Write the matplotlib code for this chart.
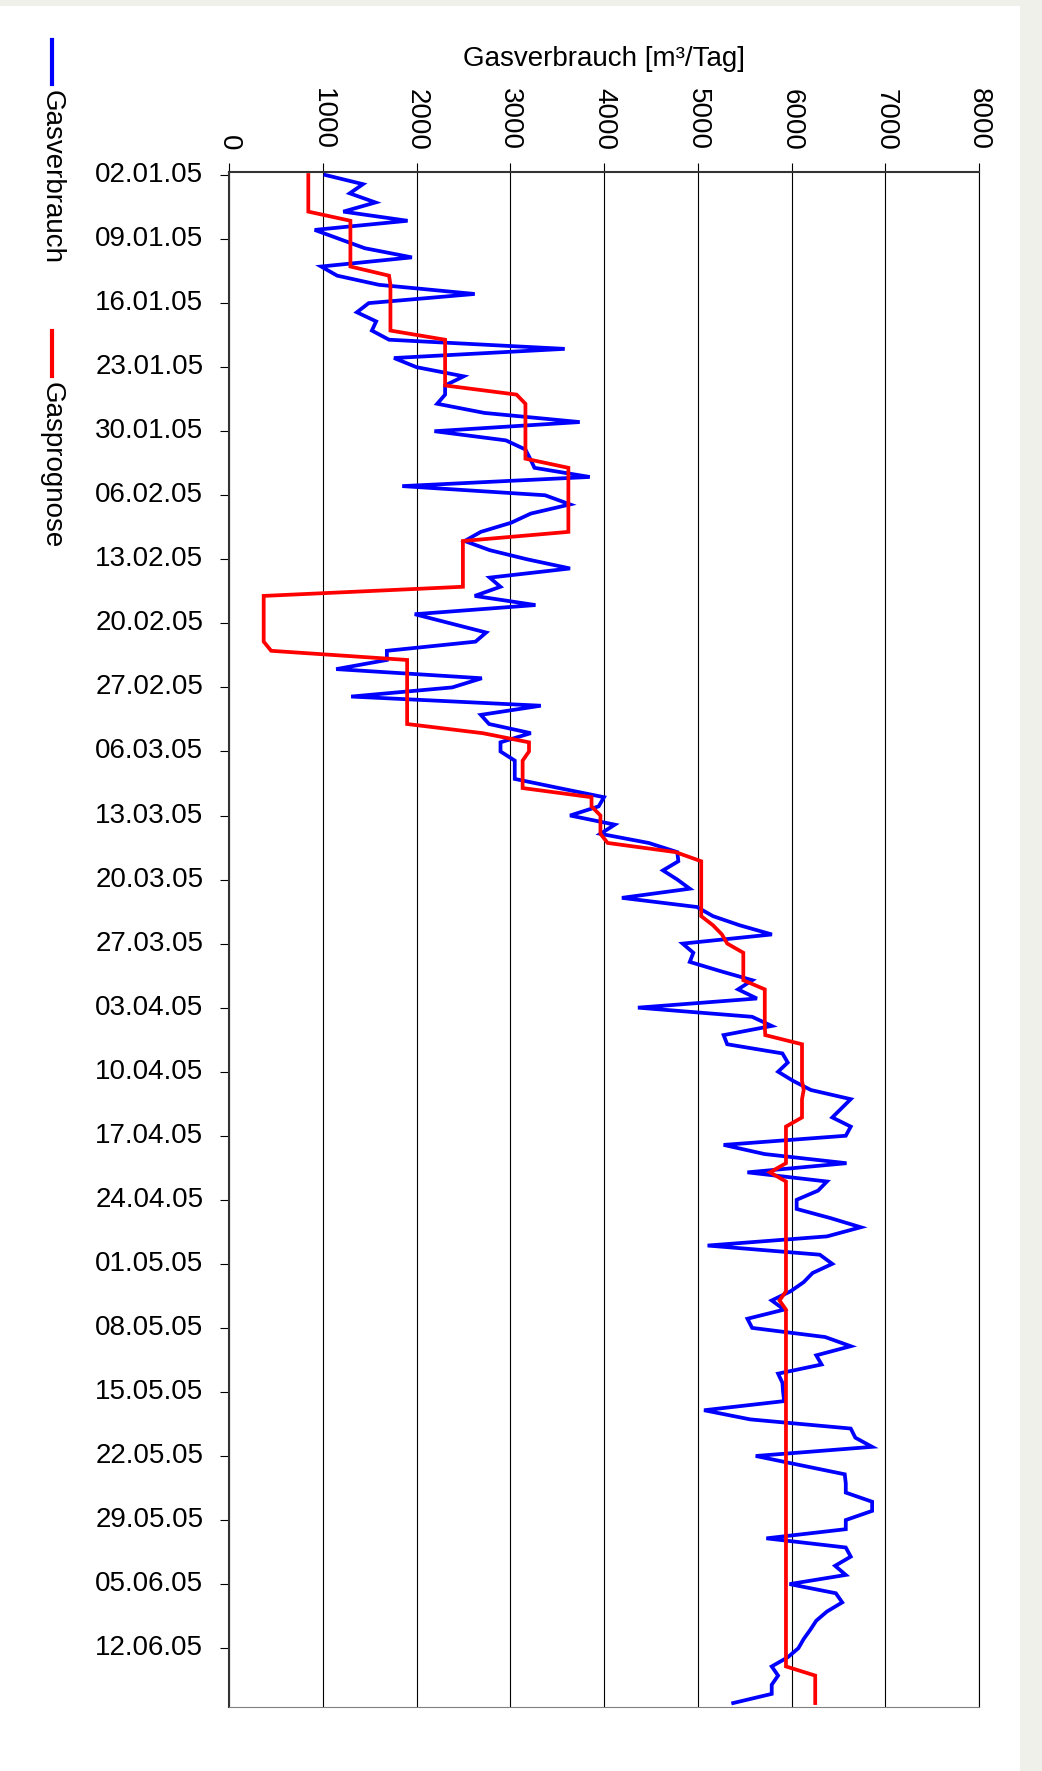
import matplotlib
matplotlib.use("Agg")
import matplotlib.pyplot as plt
from matplotlib.lines import Line2D
from matplotlib.patches import Rectangle
import pandas as pd

plt.rcParams['font.family'] = ['Liberation Sans', 'DejaVu Sans']

# Tageswerte ab 02.01.2005
start_date = '2005-01-02'

gasverbrauch = [
    1029, 1429, 1288, 1562, 1219, 1905, 914, 1181, 1448, 1951,
    983, 1154, 1600, 2621, 1490, 1364, 1570, 1524, 1707, 3581,
    1760, 2000, 2503, 2305, 2305, 2221, 2724, 3741, 2191, 2953,
    3162, 3212, 3258, 3848, 1848, 3372, 3638, 3219, 3010, 2686,
    2514, 2781, 3180, 3638, 2781, 2895, 2621, 3269, 1981, 2362,
    2743, 2629, 1684, 1684, 1143, 2697, 2381, 1303, 3326, 2686,
    2774, 3219, 2896, 2896, 3048, 3048, 3048, 3520, 4000, 3943,
    3638, 4115, 3962, 4477, 4782, 4793, 4629, 4782, 4915, 4191,
    4991, 5163, 5448, 5791, 4839, 4953, 4915, 5239, 5582, 5430,
    5631, 4362, 5580, 5789, 5276, 5314, 5903, 5960, 5857, 6017,
    6207, 6632, 6533, 6435, 6632, 6579, 5276, 5713, 6587, 5530,
    6378, 6283, 6055, 6055, 6416, 6739, 6378, 5105, 6302, 6435,
    6225, 6130, 5990, 5789, 5922, 5530, 5580, 6359, 6632, 6264,
    6321, 5857, 5903, 5910, 5922, 5067, 5560, 6632, 6681, 6860,
    5618, 6093, 6568, 6579, 6579, 6860, 6860, 6579, 6579, 5732,
    6579, 6632, 6465, 6579, 5979, 6473, 6541, 6378, 6264, 6200,
    6130, 6074, 5960, 5789, 5857, 5789, 5789, 5378,
]

gasprognose = [
    846, 846, 846, 846, 846, 1295, 1295, 1295, 1295, 1295,
    1295, 1707, 1722, 1722, 1722, 1722, 1722, 1722, 2305, 2305,
    2305, 2305, 2305, 2305, 3067, 3162, 3162, 3162, 3162, 3162,
    3162, 3162, 3620, 3620, 3620, 3620, 3620, 3620, 3620, 3620,
    2495, 2495, 2495, 2495, 2495, 2495, 370, 370, 370, 370,
    370, 370, 450, 1900, 1900, 1900, 1900, 1900, 1900, 1900,
    1900, 2705, 3200, 3200, 3132, 3132, 3132, 3132, 3867, 3867,
    3962, 3962, 3962, 4039, 4763, 5037, 5037, 5037, 5037, 5037,
    5037, 5037, 5163, 5258, 5315, 5486, 5486, 5486, 5486, 5715,
    5715, 5715, 5715, 5715, 5720, 6112, 6112, 6112, 6112, 6112,
    6130, 6112, 6112, 6112, 5941, 5941, 5941, 5941, 5941, 5770,
    5941, 5941, 5941, 5941, 5941, 5941, 5941, 5941, 5941, 5941,
    5941, 5941, 5941, 5872, 5941, 5941, 5941, 5941, 5941, 5941,
    5941, 5941, 5941, 5941, 5941, 5941, 5941, 5941, 5941, 5941,
    5941, 5941, 5941, 5941, 5941, 5941, 5941, 5941, 5941, 5941,
    5941, 5941, 5941, 5941, 5941, 5941, 5941, 5941, 5941, 5941,
    5941, 5941, 5941, 5941, 6253, 6253, 6253, 6253,
]

value_ticks = [0, 1000, 2000, 3000, 4000, 5000, 6000, 7000, 8000]

dates = pd.date_range(start_date, periods=len(gasverbrauch), freq='D')
days = list(range(len(dates)))
date_ticks = days[::7]
date_labels = [d.strftime('%d.%m.%y') for d in dates[::7]]

W, H = 1042, 1771
fig = plt.figure(figsize=(W / 100, H / 100), dpi=100, facecolor='#f0f0eb')
fig.patches.append(Rectangle((0, 0), 1020 / W, 1 - 6 / H, transform=fig.transFigure,
                             facecolor='white', edgecolor='none', zorder=-10))

ax = fig.add_axes([229 / W, 1 - 1706.7 / H, 750 / W, 1534.7 / H])
ax.plot(gasverbrauch, days, color='#0000ff', lw=2.7, solid_joinstyle='miter', zorder=3)
ax.plot(gasprognose, days, color='#ff0000', lw=2.7, solid_joinstyle='miter', zorder=4)

ax.set_xlim(0, 8000)
ax.set_ylim(167.4, -0.33)

ax.xaxis.tick_top()
ax.xaxis.set_label_position('top')
ax.set_xticks(value_ticks)
ax.set_xticklabels([str(v) for v in value_ticks])
ax.tick_params(axis='x', labelrotation=-90, labelsize=20, length=6.5, width=0.8, pad=9)
ax.set_xlabel('Gasverbrauch [m³/Tag]', fontsize=20, labelpad=16)

ax.set_yticks(date_ticks)
ax.set_yticklabels(date_labels, va='center')
ax.tick_params(axis='y', labelsize=20, length=6.5, width=0.8, pad=12)

ax.grid(axis='x', color='black', lw=0.8)
for s in ['top', 'left']:
    ax.spines[s].set_color('#333333')
    ax.spines[s].set_linewidth(1.5)
ax.spines['bottom'].set_color('#808080')
ax.spines['right'].set_color('black')
ax.spines['right'].set_linewidth(0.8)

# Legende (gedreht)
lx = 52 / W
fig.add_artist(Line2D([lx, lx], [1 - 40 / H, 1 - 84 / H], transform=fig.transFigure,
                      color='#0000ff', lw=3))
fig.text(lx, 1 - 90 / H, 'Gasverbrauch', rotation=-90, ha='center', va='top', fontsize=20)
fig.add_artist(Line2D([lx, lx], [1 - 331 / H, 1 - 376 / H], transform=fig.transFigure,
                      color='#ff0000', lw=3))
fig.text(lx, 1 - 382 / H, 'Gasprognose', rotation=-90, ha='center', va='top', fontsize=20)

fig.savefig('out.png', dpi=100, facecolor=fig.get_facecolor())
